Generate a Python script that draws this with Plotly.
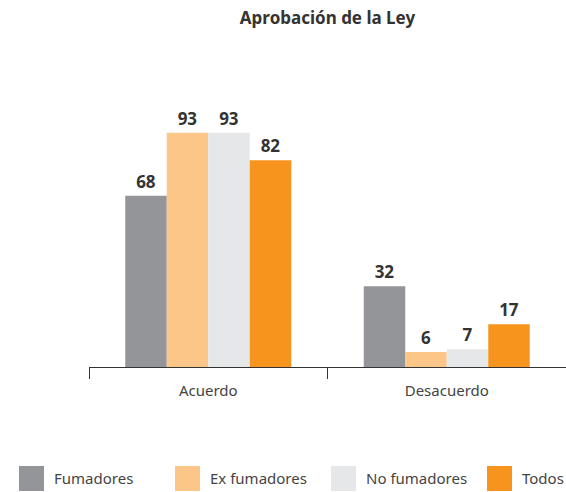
import plotly.graph_objects as go

categories = ["Acuerdo", "Desacuerdo"]
series_names = ["Fumadores", "Ex fumadores", "No fumadores", "Todos"]
fumadores = [68, 32]
ex_fumadores = [93, 6]
no_fumadores = [93, 7]
todos = [82, 17]
title_text = "Aprobación de la Ley"

colors = ["#939598", "#FDC689", "#E6E7E8", "#F7941D"]
values = [fumadores, ex_fumadores, no_fumadores, todos]

W, H = 566, 492
ML, MR, MT, MB = 89, 0, 115, 125
PW = W - ML - MR
PH = H - MT - MB

def px_x(px):
    return (px - ML) / PW

def px_y(py):
    return (H - MB - py) / PH

fig = go.Figure()
for name, vals, col in zip(series_names, values, colors):
    fig.add_trace(go.Bar(
        x=categories, y=vals, name=name,
        marker=dict(color=col, line=dict(width=0)),
        text=[str(v) for v in vals], textposition="outside",
        textfont=dict(family="Noto Sans", size=17, color="#333333", weight="bold"),
        cliponaxis=False, showlegend=False, hoverinfo="skip",
    ))

shapes = []
annotations = []
for i, (name, col) in enumerate(zip(series_names, colors)):
    x0 = 19 + 156 * i
    shapes.append(dict(type="rect", xref="paper", yref="paper",
                       x0=px_x(x0), x1=px_x(x0 + 25), y0=px_y(491), y1=px_y(466),
                       fillcolor=col, line=dict(width=0)))
    annotations.append(dict(text=name, xref="paper", yref="paper",
                            x=px_x(x0 + 33), y=px_y(478), xanchor="left", yanchor="middle",
                            showarrow=False,
                            font=dict(family="Noto Sans", size=15, color="#444444")))

fig.update_layout(
    width=W, height=H,
    margin=dict(l=ML, r=MR, t=MT, b=MB),
    paper_bgcolor="white", plot_bgcolor="white",
    barmode="group", bargap=0.304, bargroupgap=0,
    title=dict(text="<b>" + title_text + "</b>", x=0.5, xref="paper", xanchor="center",
               y=1 - 18 / H, yanchor="middle",
               font=dict(family="Noto Sans", size=17, color="#333333")),
    xaxis=dict(showline=True, linecolor="#333333", linewidth=1,
               ticks="outside", tickson="boundaries", ticklen=11, tickcolor="#333333",
               ticklabelstandoff=10,
               tickfont=dict(family="Noto Sans", size=15, color="#444444"),
               showgrid=False, zeroline=False, fixedrange=True),
    yaxis=dict(range=[0, 100], visible=False, showgrid=False, zeroline=False, fixedrange=True),
    shapes=shapes, annotations=annotations,
)

fig.write_html(
    "out.html",
    config={"displayModeBar": False, "staticPlot": True},
    post_script="document.body.style.margin='0';document.body.style.overflow='hidden';",
)
